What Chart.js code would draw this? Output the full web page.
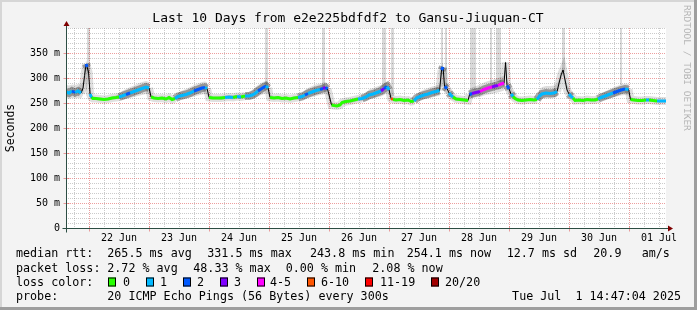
<!DOCTYPE html>
<html>
<head>
<meta charset="utf-8">
<script src="https://cdn.jsdelivr.net/npm/chart.js@4.4.0/dist/chart.umd.min.js"></script>
<style>
  html, body { margin: 0; padding: 0; background: #f3f3f3; }
  canvas { display: block; }
</style>
</head>
<body>
<canvas id="chart" width="697" height="310"></canvas>
<script>
// time axis: hours since 22 Jun 00:00, window Jun 21 14:47 -> Jul 1 14:47
const xStart = -9.22;
const xEnd = 230.78;

const hours = [
  -9.2, -8, -6.8, -5.6, -4.4, -3.2, -2.4, -1.8, -1.2, -0.8, -0.2, 0.4, 1.0, 1.6, 2.8, 4.4, 6.0, 7.6, 9.2, 10.8,
  12.0, 13.2, 14.8, 16.4, 18.0, 19.6, 21.2, 22.8, 24.0, 24.8, 26.0, 27.6, 29.2, 30.8, 32.0, 33.2, 34.4, 35.6, 37.2, 38.8,
  40.4, 42.0, 43.6, 45.2, 46.4, 47.2, 48.0, 49.6, 51.2, 52.8, 54.4, 56.0, 57.6, 59.2, 60.8, 62.4, 64.0, 65.2, 66.4, 67.6,
  68.8, 70.0, 70.8, 71.6, 72.4, 74.0, 75.6, 77.2, 78.8, 80.4, 82.0, 83.6, 85.2, 86.4, 87.6, 89.2, 90.8, 92.4, 93.6, 94.6,
  95.4, 96.2, 97.0, 98.0, 99.2, 100.4, 101.2, 102.8, 104.4, 106.0, 107.6, 109.2, 110.8, 112.0, 113.6, 115.2, 116.8, 118.0, 119.2, 120.0,
  120.8, 121.6, 122.8, 124.4, 126.0, 127.6, 128.8, 130.0, 131.0, 132.4, 134.0, 135.6, 137.2, 138.8, 140.2, 141.0, 141.6, 142.2, 143.2, 144.0,
  144.8, 145.6, 146.8, 148.4, 150.0, 151.6, 152.2, 153.2, 154.8, 156.4, 158.0, 159.6, 161.2, 162.4, 163.6, 164.8, 166.0, 166.6, 167.2, 168.0,
  168.8, 169.6, 170.4, 171.6, 173.2, 174.8, 176.4, 178.0, 179.2, 180.2, 181.2, 182.8, 184.4, 186.0, 187.2, 188.0, 188.8, 189.6, 190.4, 191.2,
  192.0, 192.8, 193.6, 194.4, 196.0, 197.6, 199.2, 200.8, 202.4, 203.6, 204.8, 206.4, 208.0, 209.6, 211.2, 212.8, 214.4, 215.8, 216.6, 218.0,
  219.6, 221.2, 222.8, 224.0, 225.6, 227.2, 228.8, 230.8
];

// median rtt in ms
const medianRtt = [
  272, 270, 274, 271, 274, 270, 280, 305, 328, 322, 312, 268, 261, 259, 259, 258, 257, 258, 260, 261,
  262, 264, 267, 270, 273, 276, 279, 282, 280, 262, 260, 259, 260, 258, 261, 257, 259, 263, 265, 267,
  270, 274, 277, 280, 281, 279, 261, 260, 260, 260, 261, 262, 261, 263, 262, 264, 264, 266, 269, 274,
  278, 282, 284, 280, 261, 260, 261, 259, 260, 258, 260, 261, 263, 266, 269, 272, 275, 277, 279, 281,
  278, 262, 246, 245, 244, 246, 251, 253, 254, 256, 258, 259, 262, 266, 268, 271, 274, 279, 283, 276,
  259, 257, 256, 257, 255, 256, 253, 254, 260, 263, 266, 268, 271, 273, 275, 316, 322, 283, 279, 270,
  265, 262, 258, 257, 256, 255, 267, 269, 271, 273, 277, 280, 282, 284, 285, 288, 290, 331, 285, 278,
  268, 263, 259, 256, 255, 256, 257, 256, 257, 264, 268, 270, 269, 270, 273, 290, 306, 316, 296, 276,
  268, 263, 260, 255, 256, 255, 257, 256, 256, 258, 261, 264, 267, 270, 273, 276, 278, 277, 257, 256,
  255, 255, 256, 256, 255, 254, 254, 254
];

// lost pings out of 20
const lossCount = [
  1, 1, 1, 2, 1, 1, 1, 2, 2, 2, 2, 1, 1, 0, 0, 0, 0, 0, 0, 0,
  0, 1, 1, 2, 1, 1, 1, 1, 1, 0, 0, 0, 0, 0, 0, 0, 0, 1, 1, 1,
  1, 1, 2, 2, 2, 1, 0, 0, 0, 0, 0, 1, 1, 0, 1, 0, 1, 1, 1, 1,
  2, 2, 2, 1, 0, 0, 0, 0, 0, 0, 0, 0, 1, 1, 2, 1, 1, 1, 2, 3,
  2, 1, 0, 0, 0, 0, 0, 0, 0, 0, 0, 1, 1, 1, 1, 1, 1, 3, 2, 1,
  0, 7, 0, 0, 0, 0, 0, 0, 1, 1, 1, 1, 1, 1, 1, 2, 2, 2, 2, 1,
  1, 1, 0, 0, 0, 0, 2, 2, 3, 3, 4, 4, 4, 3, 3, 4, 5, 5, 2, 2,
  1, 1, 0, 0, 0, 0, 0, 0, 0, 1, 1, 1, 1, 1, 1, 1, 2, 2, 1, 1,
  1, 1, 1, 0, 0, 0, 0, 0, 0, 0, 1, 1, 1, 1, 2, 2, 2, 1, 0, 0,
  0, 0, 0, 1, 0, 0, 1, 1
];

// smoke spread (lowest / highest ping)
const smokeLow = [
  260, 258, 260, 259, 260, 259, 266, 292, 316, 312, 300, 262, 257, 256, 256, 255, 255, 255, 257, 258,
  258, 257, 258, 260, 262, 264, 266, 268, 268, 258, 257, 256, 257, 255, 257, 255, 256, 257, 258, 259,
  261, 263, 265, 267, 268, 267, 257, 257, 257, 256, 257, 258, 257, 258, 258, 259, 258, 258, 260, 263,
  266, 268, 270, 268, 257, 257, 258, 256, 257, 255, 257, 257, 257, 258, 260, 262, 264, 266, 267, 269,
  266, 254, 243, 242, 241, 243, 247, 249, 250, 252, 254, 254, 255, 257, 259, 261, 263, 266, 270, 266,
  255, 254, 253, 254, 252, 253, 250, 251, 254, 256, 258, 259, 261, 263, 264, 304, 310, 274, 268, 262,
  258, 256, 255, 254, 253, 252, 259, 260, 261, 262, 265, 267, 268, 270, 271, 273, 275, 318, 276, 268,
  260, 257, 255, 253, 252, 253, 254, 253, 254, 256, 258, 259, 259, 260, 262, 280, 296, 306, 286, 268,
  260, 257, 255, 252, 253, 252, 254, 253, 253, 254, 255, 257, 259, 261, 263, 265, 266, 265, 254, 253,
  252, 252, 253, 253, 252, 251, 251, 251
];
const smokeHigh = [
  286, 285, 287, 286, 288, 287, 292, 314, 336, 330, 320, 284, 268, 264, 262, 261, 260, 261, 263, 265,
  268, 274, 278, 282, 285, 289, 292, 294, 292, 270, 263, 262, 263, 261, 264, 261, 263, 270, 275, 278,
  282, 286, 289, 292, 293, 291, 268, 263, 263, 264, 265, 266, 266, 267, 268, 270, 272, 276, 281, 286,
  290, 293, 294, 290, 268, 263, 264, 262, 263, 261, 263, 264, 270, 276, 280, 284, 287, 289, 291, 292,
  289, 270, 252, 249, 248, 250, 255, 257, 258, 260, 262, 265, 270, 277, 280, 283, 286, 290, 293, 288,
  266, 262, 260, 260, 258, 259, 257, 258, 268, 273, 277, 280, 283, 285, 287, 324, 330, 292, 290, 282,
  274, 268, 262, 261, 260, 259, 278, 281, 284, 287, 291, 294, 296, 298, 300, 302, 305, 338, 294, 288,
  280, 272, 264, 260, 259, 259, 260, 259, 261, 276, 282, 284, 284, 285, 288, 298, 314, 322, 304, 286,
  280, 272, 266, 259, 259, 258, 260, 259, 260, 262, 268, 273, 277, 281, 284, 287, 289, 288, 263, 259,
  258, 258, 259, 260, 258, 257, 257, 257
];

// pings far above the scale (light grey columns)
const spikeStart = [-1.0, 70.4, 93.2, 117.2, 120.8, 140.8, 142.4, 152.4, 160.4, 162.8, 189.2, 212.4];
const spikeEnd = [0.2, 71.6, 94.4, 118.8, 122.0, 141.4, 143.2, 154.8, 161.2, 164.8, 190.4, 213.2];
const spikeBottom = [310, 284, 281, 282, 264, 320, 284, 276, 290, 292, 312, 286];

const dayLabels = ['22 Jun', '23 Jun', '24 Jun', '25 Jun', '26 Jun', '27 Jun', '28 Jun', '29 Jun', '30 Jun', '01 Jul'];
const yTicks = [0, 50, 100, 150, 200, 250, 300, 350];
const yTickLabels = ['0', '50 m', '100 m', '150 m', '200 m', '250 m', '300 m', '350 m'];

const lossLabels = ['0', '1', '2', '3', '4-5', '6-10', '11-19', '20/20'];
const lossUpper = [0, 1, 2, 3, 5, 10, 19, 20];
const lossColors = ['#26ff00', '#00b8ff', '#0059ff', '#7e00ff', '#ff00ff', '#ff5500', '#ff0000', '#a10000'];

const rttStats = ['265.5 ms avg', '331.5 ms max', '243.8 ms min', '254.1 ms now', '12.7 ms sd', '20.9', 'am/s'];
const lossStats = ['2.72 % avg', '48.33 % max', '0.00 % min', '2.08 % now'];
const probeText = '20 ICMP Echo Pings (56 Bytes) every 300s';
const stampText = 'Tue Jul  1 14:47:04 2025';
const titleText = 'Last 10 Days from e2e225bdfdf2 to Gansu-Jiuquan-CT';

function lossColor(n) {
  for (let i = 0; i < lossUpper.length; i++) {
    if (n <= lossUpper[i]) return lossColors[i];
  }
  return lossColors[lossColors.length - 1];
}

const pts = arr => hours.map((h, i) => ({x: h, y: arr[i]}));

const MONO = '"DejaVu Sans Mono", monospace';
const MGRID = 'rgba(222,80,80,0.55)';
const GRID = 'rgba(140,140,140,0.45)';
const AXIS = '#2c4d43';
const ARROW = '#7f0000';

const rrdFrame = {
  id: 'rrdFrame',
  beforeDraw(chart) {
    const {ctx, chartArea: a} = chart;
    const W = chart.width, H = chart.height;
    ctx.save();
    ctx.fillStyle = '#f3f3f3';
    ctx.fillRect(0, 0, W, H);
    ctx.fillStyle = '#d6d6d6';
    ctx.fillRect(0, 0, W, 2);
    ctx.fillRect(0, 0, 2, H);
    ctx.fillStyle = '#9e9e9e';
    ctx.fillRect(0, H - 3, W, 3);
    ctx.fillRect(W - 3, 0, 3, H);
    ctx.fillStyle = '#ffffff';
    ctx.fillRect(a.left, a.top, a.right - a.left, a.bottom - a.top);
    ctx.restore();
  },
  beforeDatasetsDraw(chart) {
    const {ctx, chartArea: a} = chart;
    const xs = chart.scales.x, ys = chart.scales.y;
    ctx.save();
    ctx.lineWidth = 1;
    ctx.setLineDash([1, 1]);
    // horizontal grid
    for (let v = 10; v <= ys.max; v += 10) {
      const y = Math.round(ys.getPixelForValue(v)) + 0.5;
      ctx.strokeStyle = (v % 50 === 0 && v < ys.max) ? MGRID : GRID;
      ctx.beginPath(); ctx.moveTo(a.left, y); ctx.lineTo(a.right, y); ctx.stroke();
    }
    // vertical grid, every 6 hours
    for (let h = -6; h < xs.max; h += 6) {
      if (h <= xs.min) continue;
      const x = Math.round(xs.getPixelForValue(h)) + 0.5;
      ctx.strokeStyle = (h % 24 === 0) ? MGRID : GRID;
      ctx.beginPath(); ctx.moveTo(x, a.top); ctx.lineTo(x, a.bottom); ctx.stroke();
    }
    ctx.setLineDash([]);
    // off-scale ping columns
    ctx.fillStyle = 'rgba(0,0,0,0.15)';
    spikeStart.forEach((s, i) => {
      const x0 = Math.round(xs.getPixelForValue(s));
      const x1 = Math.round(xs.getPixelForValue(spikeEnd[i]));
      const yb = ys.getPixelForValue(spikeBottom[i]);
      ctx.fillRect(x0, a.top, Math.max(1, x1 - x0), yb - a.top);
    });
    ctx.restore();
  },
  afterDatasetsDraw(chart) {
    const {ctx, chartArea: a} = chart;
    const xs = chart.scales.x, ys = chart.scales.y;
    const L = a.left + 0.5, B = a.bottom + 0.5;
    ctx.save();
    // ticks
    ctx.lineWidth = 1;
    yTicks.forEach(v => {
      const y = Math.round(ys.getPixelForValue(v)) + 0.5;
      ctx.strokeStyle = MGRID;
      ctx.beginPath(); ctx.moveTo(L - 3, y); ctx.lineTo(L + 3, y); ctx.stroke();
    });
    for (let h = 0; h < xs.max; h += 24) {
      const x = Math.round(xs.getPixelForValue(h)) + 0.5;
      ctx.strokeStyle = MGRID;
      ctx.beginPath(); ctx.moveTo(x, B - 2); ctx.lineTo(x, B + 3); ctx.stroke();
    }
    // axes
    ctx.strokeStyle = AXIS;
    ctx.beginPath(); ctx.moveTo(L, B + 4); ctx.lineTo(L, a.top - 4); ctx.stroke();
    ctx.beginPath(); ctx.moveTo(L - 4, B); ctx.lineTo(a.right + 4, B); ctx.stroke();
    ctx.fillStyle = ARROW;
    ctx.beginPath(); ctx.moveTo(L - 3, a.top - 2); ctx.lineTo(L + 3, a.top - 2); ctx.lineTo(L, a.top - 7); ctx.closePath(); ctx.fill();
    ctx.beginPath(); ctx.moveTo(a.right + 2, B - 3); ctx.lineTo(a.right + 2, B + 3); ctx.lineTo(a.right + 7, B); ctx.closePath(); ctx.fill();

    // tick labels
    ctx.fillStyle = '#000';
    ctx.font = '10px ' + MONO;
    ctx.textBaseline = 'middle';
    ctx.textAlign = 'right';
    yTicks.forEach((v, i) => ctx.fillText(yTickLabels[i], a.left - 6, ys.getPixelForValue(v)));
    ctx.textAlign = 'center';
    dayLabels.forEach((lab, i) => ctx.fillText(lab, xs.getPixelForValue(i * 24 + 12), a.bottom + 10.5));

    // title
    ctx.font = '13px ' + MONO;
    ctx.fillText(titleText, 348, 19);

    // unit label
    ctx.save();
    ctx.font = '11.5px ' + MONO;
    ctx.translate(11, (a.top + a.bottom) / 2);
    ctx.rotate(-Math.PI / 2);
    ctx.fillText('Seconds', 0, 0);
    ctx.restore();

    // watermark
    ctx.save();
    ctx.font = '9.5px ' + MONO;
    ctx.fillStyle = '#b4b4b4';
    ctx.translate(686, 5);
    ctx.rotate(Math.PI / 2);
    ctx.textAlign = 'left';
    ctx.fillText('RRDTOOL / TOBI OETIKER', 0, 0);
    ctx.restore();

    // legend
    ctx.font = '11.7px ' + MONO;
    ctx.textAlign = 'left';
    const r1 = 254, r2 = 268.5, r3 = 282.5, r4 = 297;
    ctx.fillText('median rtt:', 16, r1);
    const r1x = [107.3, 207.3, 310, 406.7, 506.7, 593.3, 641.7];
    rttStats.forEach((t, i) => ctx.fillText(t, r1x[i], r1));
    ctx.fillText('packet loss:', 16, r2);
    const r2x = [107.3, 193.3, 285.7, 372.3];
    lossStats.forEach((t, i) => ctx.fillText(t, r2x[i], r2));
    ctx.fillText('loss color:', 16, r3);
    const boxX = [108, 146, 183, 220, 257, 307, 365, 431];
    const labX = [123, 160, 197, 234, 270, 321, 380, 445];
    lossLabels.forEach((lab, i) => {
      ctx.fillStyle = lossColors[i];
      ctx.fillRect(boxX[i], r3 - 5, 8, 9);
      ctx.strokeStyle = '#000';
      ctx.strokeRect(boxX[i] + 0.5, r3 - 4.5, 7, 8);
      ctx.fillStyle = '#000';
      ctx.fillText(lab, labX[i], r3);
    });
    ctx.fillText('probe:', 16, r4);
    ctx.fillText(probeText, 107.3, r4);
    ctx.textAlign = 'right';
    ctx.fillText(stampText, 681, r4);
    ctx.restore();
  }
};

const ctx = document.getElementById('chart').getContext('2d');
new Chart(ctx, {
  type: 'line',
  data: {
    datasets: [
      {
        label: 'median',
        data: pts(medianRtt),
        order: 0,
        borderWidth: 3,
        borderCapStyle: 'butt',
        pointRadius: 0,
        fill: false,
        segment: {
          borderColor: c => {
            const i = c.p1DataIndex, j = c.p0DataIndex;
            if (Math.abs(medianRtt[i] - medianRtt[j]) > 7) return 'rgba(0,0,0,0)';
            return lossColor(lossCount[i]);
          }
        }
      },
      {
        label: 'median line',
        data: pts(medianRtt),
        order: 1,
        borderColor: '#000',
        borderWidth: 1,
        pointRadius: 0,
        fill: false
      },
      {
        label: 'smoke core',
        data: pts(medianRtt),
        order: 2,
        borderWidth: 8,
        borderCapStyle: 'butt',
        pointRadius: 0,
        fill: false,
        segment: {
          borderColor: c => {
            const i = c.p1DataIndex, j = c.p0DataIndex;
            if (Math.abs(medianRtt[i] - medianRtt[j]) > 7) return 'rgba(0,0,0,0.12)';
            return (smokeHigh[i] - smokeLow[i]) > 12 ? 'rgba(0,0,0,0.33)' : 'rgba(0,0,0,0.12)';
          }
        }
      },
      {
        label: 'smoke low',
        data: pts(smokeLow),
        order: 3,
        borderWidth: 0,
        pointRadius: 0,
        fill: false
      },
      {
        label: 'smoke high',
        data: pts(smokeHigh),
        order: 4,
        borderWidth: 0,
        pointRadius: 0,
        backgroundColor: 'rgba(0,0,0,0.13)',
        fill: 3
      }
    ]
  },
  options: {
    responsive: false,
    animation: false,
    devicePixelRatio: 1,
    layout: { padding: { left: 66, right: 31, top: 28, bottom: 82 } },
    scales: {
      x: { type: 'linear', min: xStart, max: xEnd, display: false },
      y: { type: 'linear', min: 0, max: 400, display: false }
    },
    plugins: {
      legend: { display: false },
      tooltip: { enabled: false }
    },
    elements: { line: { tension: 0 } }
  },
  plugins: [rrdFrame]
});
</script>
</body>
</html>
